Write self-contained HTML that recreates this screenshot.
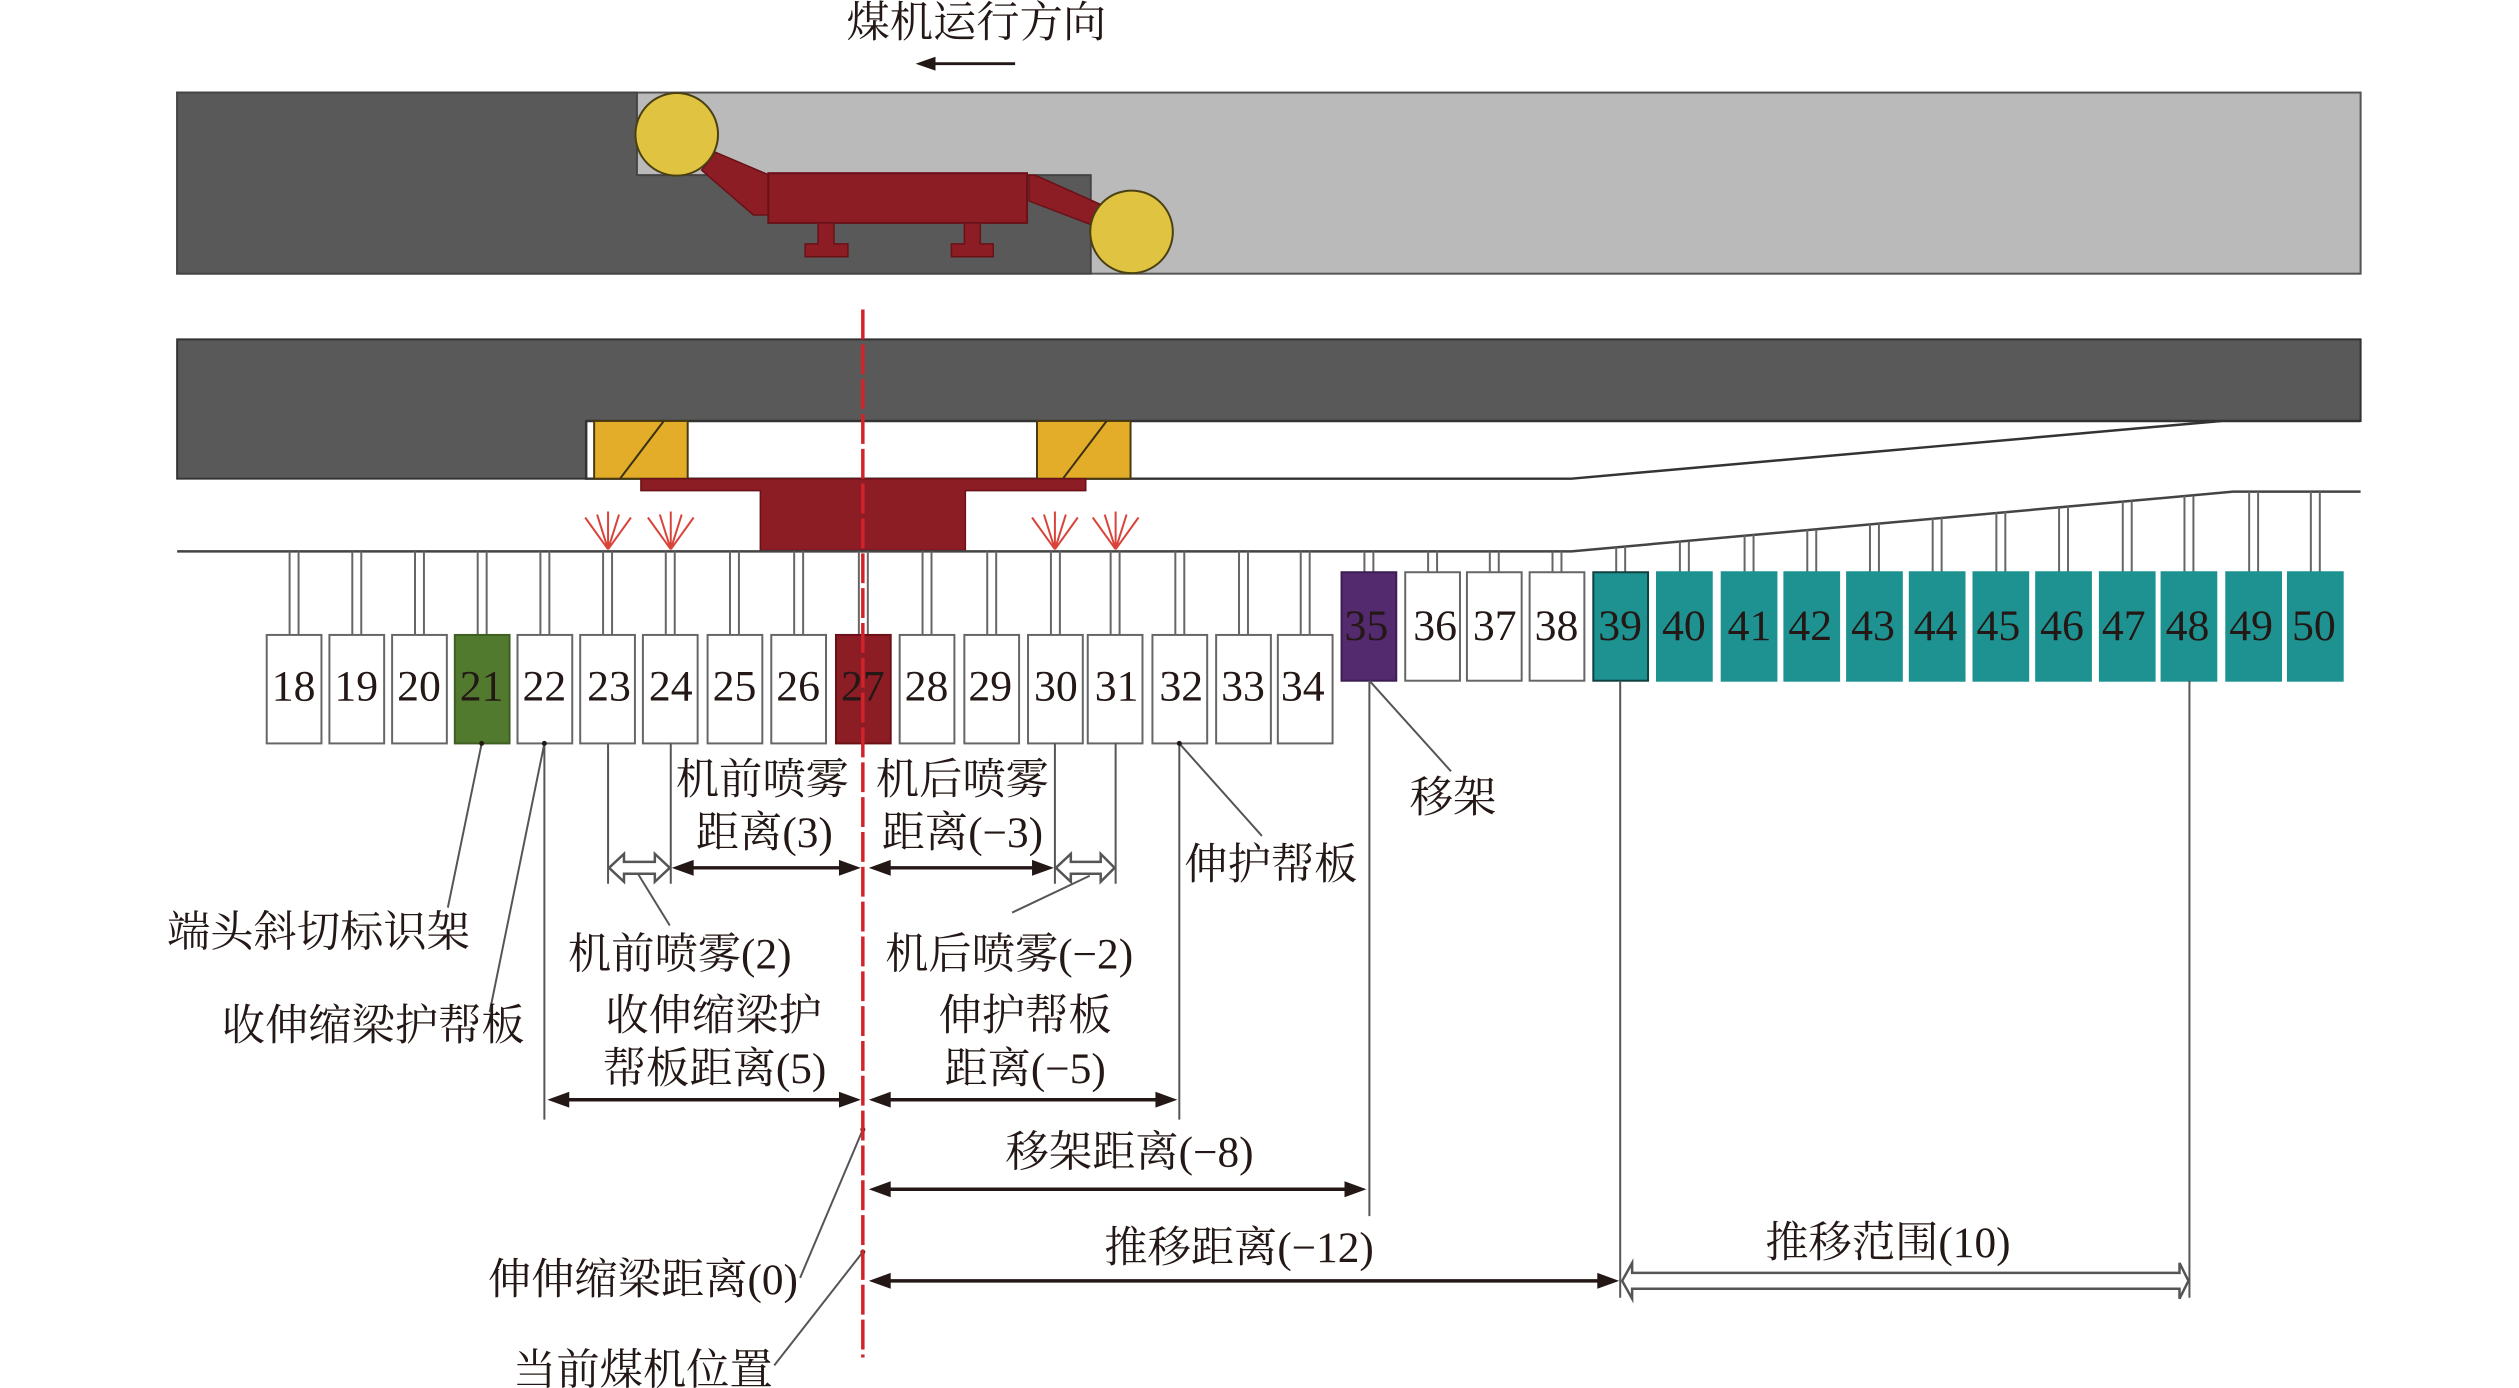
<!DOCTYPE html>
<html><head><meta charset="utf-8"><style>
html,body{margin:0;padding:0;background:#fff;width:2519px;height:1388px;overflow:hidden}
svg{display:block}
text{font-family:"Liberation Serif","Noto Serif CJK SC",serif;font-size:43.5px;fill:#231815;text-anchor:middle}
text.n{font-size:44px}
</style></head><body>
<svg width="2519" height="1388" viewBox="0 0 2519 1388" xmlns="http://www.w3.org/2000/svg">
<g transform="scale(0.9952)">
<!-- top panel -->
<rect x="178" y="93" width="2194" height="182" fill="#bababa" stroke="#555" stroke-width="2"/>
<polygon points="178,93 640,93 640,176 1096,176 1096,275 178,275" fill="#595959" stroke="#444" stroke-width="2"/>
<polygon points="719,153 773,176 773,216 757,216 705,171" fill="#8c1d24" stroke="#6a1118" stroke-width="1.5"/>
<polygon points="1034,176 1040,176 1105,205 1097,226 1034,202" fill="#8c1d24" stroke="#6a1118" stroke-width="1.5"/>
<rect x="772" y="174" width="260" height="50" fill="#8c1d24" stroke="#6a1118" stroke-width="2"/>
<path d="M822 224H838V245H852V258H809V245H822Z M969 224H985V245H998V258H956V245H969Z" fill="#8c1d24" stroke="#6a1118" stroke-width="1.5"/>
<circle cx="680" cy="135" r="41.5" fill="#e0c341" stroke="#4a4012" stroke-width="2"/>
<circle cx="1137" cy="233" r="41.5" fill="#e0c341" stroke="#4a4012" stroke-width="2"/>
<!-- direction -->
<text x="981" y="37">煤机运行方向</text>
<path d="M936 64H1020" stroke="#231815" stroke-width="3" fill="none"/>
<polygon points="920,64 940,57 940,71" fill="#231815"/>
<!-- second panel -->
<polygon points="178,341 2372,341 2372,423 589,423 589,481 178,481" fill="#595959" stroke="#333" stroke-width="2"/>
<path d="M589 423V481H1579L2232 423" fill="#fff" stroke="#333" stroke-width="2.5"/>
<path d="M589 423H2372" stroke="#333" stroke-width="2.5"/>
<rect x="597" y="423" width="94" height="58" fill="#e3ad2a" stroke="#4a3a10" stroke-width="2"/>
<rect x="1042" y="423" width="94" height="58" fill="#e3ad2a" stroke="#4a3a10" stroke-width="2"/>
<path d="M667 423L623 481M1112 423L1068 481" stroke="#3a2f10" stroke-width="2"/>
<polygon points="644,481 1091,481 1091,493 970,493 970,553 764,553 764,493 644,493" fill="#8c1d24" stroke="#6a1118" stroke-width="1.5"/>
<!-- base line -->
<path d="M178 554H1579L2244 494H2372" fill="none" stroke="#444" stroke-width="2.5"/>
<!-- sprays -->
<g stroke="#d8443a" stroke-width="2" fill="none">
<path d="M611 552L588 520M611 552L600 517M611 552V514M611 552L622 517M611 552L634 520"/>
<path d="M674 552L651 520M674 552L663 517M674 552V514M674 552L685 517M674 552L697 520"/>
<path d="M1060 552L1037 520M1060 552L1049 517M1060 552V514M1060 552L1071 517M1060 552L1083 520"/>
<path d="M1121 552L1098 520M1121 552L1110 517M1121 552V514M1121 552L1132 517M1121 552L1144 520"/>
</g>
<!-- rods -->
<path fill="none" stroke="#666" stroke-width="2" d="
M291 554V638M300 554V638 M354 554V638M363 554V638 M417 554V638M426 554V638 M480 554V638M489 554V638
M543 554V638M552 554V638 M606 554V638M615 554V638 M669 554V638M678 554V638 M733.500 554V638M742.500 554V638
M798 554V638M807 554V638 M863 554V638M872 554V638 M927 554V638M936 554V638 M992 554V638M1001 554V638
M1056 554V638M1065 554V638 M1116 554V638M1125 554V638 M1181 554V638M1190 554V638 M1245 554V638M1254 554V638
M1307 554V638M1316 554V638
M1371 554V575M1380 554V575 M1435 554V575M1444 554V575 M1497 554V575M1506 554V575 M1560 554V575M1569 554V575
M1624 550V575M1633 549V575 M1688 544V575M1697 544V575 M1753 538V575M1762 537V575 M1816 532V575M1825 532V575
M1879 527V575M1888 526V575 M1942 521V575M1951 520V575 M2006 515V575M2015 514V575 M2069 510V575M2078 509V575
M2133 504V575M2142 503V575 M2195 498V575M2204 498V575 M2260 494V575M2269 494V575 M2322 494V575M2331 494V575"/>
<!-- row 2 boxes -->
<g stroke="#666" stroke-width="2">
<rect x="1348" y="575" width="55" height="109" fill="#532a6e" stroke="#3c1d52"/>
<rect x="1412" y="575" width="55" height="109" fill="#fff"/>
<rect x="1474" y="575" width="55" height="109" fill="#fff"/>
<rect x="1537" y="575" width="55" height="109" fill="#fff"/>
<rect x="1601" y="575" width="55" height="109" fill="#1d9290" stroke="#10403f"/>
<g fill="#1d9290" stroke="#1d9290">
<rect x="1665" y="575" width="55" height="109"/>
<rect x="1730" y="575" width="55" height="109"/>
<rect x="1793" y="575" width="55" height="109"/>
<rect x="1856" y="575" width="55" height="109"/>
<rect x="1919" y="575" width="55" height="109"/>
<rect x="1983" y="575" width="55" height="109"/>
<rect x="2046" y="575" width="55" height="109"/>
<rect x="2110" y="575" width="55" height="109"/>
<rect x="2172" y="575" width="55" height="109"/>
<rect x="2237" y="575" width="55" height="109"/>
<rect x="2299" y="575" width="55" height="109"/>
</g>
</g>
<!-- row 1 boxes -->
<g stroke="#666" stroke-width="2" fill="#fff">
<rect x="268" y="638" width="55" height="109"/>
<rect x="331" y="638" width="55" height="109"/>
<rect x="394" y="638" width="55" height="109"/>
<rect x="457" y="638" width="55" height="109" fill="#527a2e" stroke="#3f5e22"/>
<rect x="520" y="638" width="55" height="109"/>
<rect x="583" y="638" width="55" height="109"/>
<rect x="646" y="638" width="55" height="109"/>
<rect x="711" y="638" width="55" height="109"/>
<rect x="775" y="638" width="55" height="109"/>
<rect x="840" y="638" width="55" height="109" fill="#8c1d24" stroke="#6a1118"/>
<rect x="904" y="638" width="55" height="109"/>
<rect x="969" y="638" width="55" height="109"/>
<rect x="1033" y="638" width="55" height="109"/>
<rect x="1093" y="638" width="55" height="109"/>
<rect x="1158" y="638" width="55" height="109"/>
<rect x="1222" y="638" width="55" height="109"/>
<rect x="1284" y="638" width="55" height="109"/>
</g>
<!-- box numbers -->
<g>
<text class="n" x="295" y="704">18</text><text class="n" x="358" y="704">19</text><text class="n" x="421" y="704">20</text><text class="n" x="484" y="704">21</text>
<text class="n" x="547" y="704">22</text><text class="n" x="612" y="704">23</text><text class="n" x="674" y="704">24</text><text class="n" x="738" y="704">25</text>
<text class="n" x="802" y="704">26</text><text class="n" x="867" y="704">27</text><text class="n" x="931" y="704">28</text><text class="n" x="995" y="704">29</text>
<text class="n" x="1061" y="704">30</text><text class="n" x="1122" y="704">31</text><text class="n" x="1187" y="704">32</text><text class="n" x="1249" y="704">33</text>
<text class="n" x="1309" y="704">34</text>
<text class="n" x="1373" y="643">35</text><text class="n" x="1442" y="643">36</text><text class="n" x="1502" y="643">37</text><text class="n" x="1564" y="643">38</text>
<text class="n" x="1628" y="643">39</text><text class="n" x="1692" y="643">40</text><text class="n" x="1758" y="643">41</text><text class="n" x="1819" y="643">42</text>
<text class="n" x="1882" y="643">43</text><text class="n" x="1945" y="643">44</text><text class="n" x="2008" y="643">45</text><text class="n" x="2072" y="643">46</text>
<text class="n" x="2134" y="643">47</text><text class="n" x="2198" y="643">48</text><text class="n" x="2262" y="643">49</text><text class="n" x="2325" y="643">50</text>
</g>
<!-- extension & leader lines -->
<path fill="none" stroke="#555" stroke-width="2" d="
M547 747V1125 M611 747V888 M674 747V888 M1060 747V888 M1121 747V888 M1185 747V1125
M1376 684V1222 M1628 684V1304 M2200 684V1304
M484 747L450 912 M547 747L492 1017 M1185 747L1268 840 M1376 684L1458 775
M641 878L673 930 M1095 880L1017 917 M867 1135L804 1284 M867 1258L778 1372"/>
<g fill="#231815"><circle cx="484" cy="747" r="2.5"/><circle cx="547" cy="747" r="2.5"/><circle cx="1185" cy="747" r="2.5"/><circle cx="867" cy="1135" r="2.5"/><circle cx="867" cy="1258" r="2.5"/></g>
<!-- solid dimension arrows -->
<g stroke="#231815" stroke-width="3.500" fill="none">
<path d="M690 872H846M892 872H1044M565 1105H850M892 1105H1166M892 1195H1356M892 1287H1608"/>
</g>
<g fill="#231815">
<polygon points="675,872 697,864 697,880"/><polygon points="865,872 843,864 843,880"/>
<polygon points="873,872 895,864 895,880"/><polygon points="1059,872 1037,864 1037,880"/>
<polygon points="550,1105 572,1097 572,1113"/><polygon points="865,1105 843,1097 843,1113"/>
<polygon points="873,1105 895,1097 895,1113"/><polygon points="1183,1105 1161,1097 1161,1113"/>
<polygon points="873,1195 895,1187 895,1203"/><polygon points="1373,1195 1351,1187 1351,1203"/>
<polygon points="873,1287 895,1279 895,1295"/><polygon points="1627,1287 1605,1279 1605,1295"/>
</g>
<!-- hollow double arrows -->
<g fill="#fff" stroke="#555" stroke-width="2.500">
<polygon points="612,872 627,858 627,866 658,866 658,858 673,872 658,886 658,878 627,878 627,886"/>
<polygon points="1061,872 1076,858 1076,866 1106,866 1106,858 1120,872 1106,886 1106,878 1076,878 1076,886"/>
<polygon points="1630,1287 1640,1269 1640,1279 2190,1279 2190,1269 2199,1287 2190,1305 2190,1295 1640,1295 1640,1305"/>
</g>
<!-- red centre line -->
<path d="M867 311V1364" stroke="#d2232a" stroke-width="3.500" stroke-dasharray="30 5" fill="none"/>
<!-- labels -->
<text x="766" y="798">机前喷雾</text>
<text x="768" y="851">距离(3)</text>
<text x="967" y="798">机后喷雾</text>
<text x="967" y="851">距离(−3)</text>
<text x="1277" y="883">伸护帮板</text>
<text x="1460" y="816">移架</text>
<text x="320" y="951">端头斜切标识架</text>
<text x="375" y="1045">收伸缩梁护帮板</text>
<text x="683" y="973">机前喷雾(2)</text>
<text x="1014" y="973">机后喷雾(−2)</text>
<text x="717" y="1035">收伸缩梁护</text>
<text x="718" y="1088">帮板距离(5)</text>
<text x="1030" y="1035">伸护帮板</text>
<text x="1030" y="1088">距离(−5)</text>
<text x="1135" y="1172">移架距离(−8)</text>
<text x="1245" y="1268">推移距离(−12)</text>
<text x="1897" y="1263">推移范围(10)</text>
<text x="646" y="1300">伸伸缩梁距离(0)</text>
<text x="646" y="1391">当前煤机位置</text>
</g>
</svg>
</body></html>
